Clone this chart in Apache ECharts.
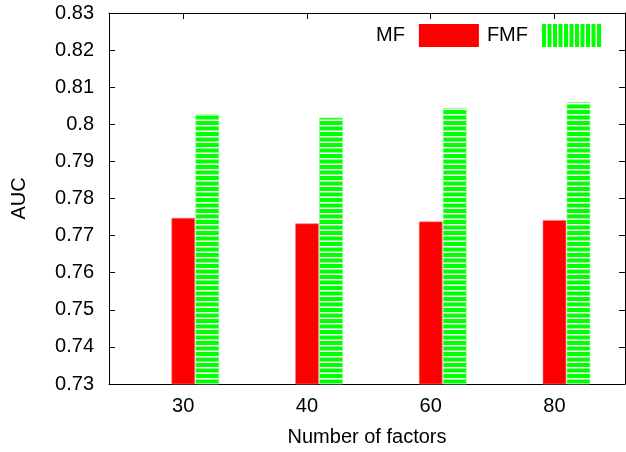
<!DOCTYPE html>
<html>
<head>
<meta charset="utf-8">
<script src="https://cdn.jsdelivr.net/npm/echarts@6/dist/echarts.min.js"></script>
<style>
  html, body { margin: 0; padding: 0; background: #fff; }
  #chart { width: 626px; height: 452px; }
</style>
</head>
<body>
<div id="chart"></div>
<script>
const categories = ['30', '40', '60', '80'];
const mfValues = [0.7747, 0.7732, 0.7737, 0.7741];
const fmfValues = [0.8026, 0.8017, 0.8043, 0.8059];
const yTicks = [0.73, 0.74, 0.75, 0.76, 0.77, 0.78, 0.79, 0.8, 0.81, 0.82, 0.83];

const Y_MIN = 0.73;
const Y_MAX = 0.83;
const FONT = 'Liberation Sans';
const FS = 20;

// striped fills, like the gnuplot patterns
function stripes(horizontal) {
  const c = document.createElement('canvas');
  c.width = 11;
  c.height = 11;
  const ctx = c.getContext('2d');
  ctx.fillStyle = '#00ff00';
  ctx.fillRect(0, 0, 11, 11);
  ctx.fillStyle = '#ffffff';
  if (horizontal) {
    ctx.fillRect(0, 4, 11, 1.5);
    ctx.fillRect(0, 9.5, 11, 1.5);
  } else {
    ctx.fillRect(4, 0, 1.5, 11);
    ctx.fillRect(9.5, 0, 1.5, 11);
  }
  return { image: c, repeat: 'repeat' };
}
const hPattern = stripes(true);
const vPattern = stripes(false);

const idx = categories.map((_, i) => i);

function barRenderer(offset, fill, stroke) {
  return function (params, api) {
    const top = api.coord([api.value(0), api.value(1)]);
    const base = api.coord([api.value(0), Y_MIN]);
    const w = 23;
    return {
      type: 'rect',
      shape: { x: top[0] + offset - w / 2, y: top[1], width: w, height: base[1] - top[1] },
      style: { fill: fill, stroke: stroke, lineWidth: 0.6 }
    };
  };
}

const tickStyle = { show: true, inside: true, length: 6, lineStyle: { color: '#000' } };
const lineStyle = { show: true, onZero: false, lineStyle: { color: '#000', width: 1 } };

const chart = echarts.init(document.getElementById('chart'));
chart.setOption({
  animation: false,
  backgroundColor: '#fff',
  textStyle: { fontFamily: FONT },
  grid: { left: 109, right: 1, top: 13, bottom: 68 },
  legend: {
    top: 19,
    right: 19,
    align: 'right',
    icon: 'rect',
    itemWidth: 60,
    itemHeight: 23,
    itemGap: 8,
    textStyle: { fontFamily: FONT, fontSize: FS, color: '#000', padding: [0, 9, 0, 0] },
    data: [
      { name: 'MF', itemStyle: { color: '#ff0000' } },
      { name: 'FMF', itemStyle: { color: vPattern } }
    ]
  },
  xAxis: [
    {
      type: 'value',
      min: -0.6,
      max: 3.57,
      position: 'bottom',
      name: 'Number of factors',
      nameLocation: 'middle',
      nameGap: 43,
      nameTextStyle: { fontFamily: FONT, fontSize: FS, color: '#000' },
      axisLine: lineStyle,
      axisTick: Object.assign({ customValues: idx }, tickStyle),
      axisLabel: {
        customValues: idx,
        formatter: v => categories[v],
        fontFamily: FONT, fontSize: FS, color: '#000', margin: 12
      },
      splitLine: { show: false }
    },
    {
      type: 'value',
      min: -0.6,
      max: 3.57,
      position: 'top',
      axisLine: lineStyle,
      axisTick: Object.assign({ customValues: idx }, tickStyle),
      axisLabel: { show: false },
      splitLine: { show: false }
    }
  ],
  yAxis: [
    {
      type: 'value',
      min: Y_MIN,
      max: Y_MAX,
      position: 'left',
      name: 'AUC',
      nameLocation: 'middle',
      nameGap: 80,
      nameTextStyle: { fontFamily: FONT, fontSize: FS, color: '#000' },
      axisLine: lineStyle,
      axisTick: Object.assign({ customValues: yTicks }, tickStyle),
      axisLabel: {
        customValues: yTicks,
        formatter: v => String(+v.toFixed(2)),
        fontFamily: FONT, fontSize: FS, color: '#000', margin: 15
      },
      splitLine: { show: false }
    },
    {
      type: 'value',
      min: Y_MIN,
      max: Y_MAX,
      position: 'right',
      axisLine: lineStyle,
      axisTick: Object.assign({ customValues: yTicks }, tickStyle),
      axisLabel: { show: false },
      splitLine: { show: false }
    }
  ],
  series: [
    {
      name: 'MF',
      type: 'custom',
      xAxisIndex: 0,
      yAxisIndex: 0,
      itemStyle: { color: '#ff0000' },
      renderItem: barRenderer(0, '#ff0000', '#ff8080'),
      data: idx.map(i => [i, mfValues[i]])
    },
    {
      name: 'FMF',
      type: 'custom',
      xAxisIndex: 0,
      yAxisIndex: 0,
      itemStyle: { color: '#00ff00' },
      renderItem: barRenderer(24, hPattern, '#80ff80'),
      data: idx.map(i => [i, fmfValues[i]])
    }
  ]
});
</script>
</body>
</html>
